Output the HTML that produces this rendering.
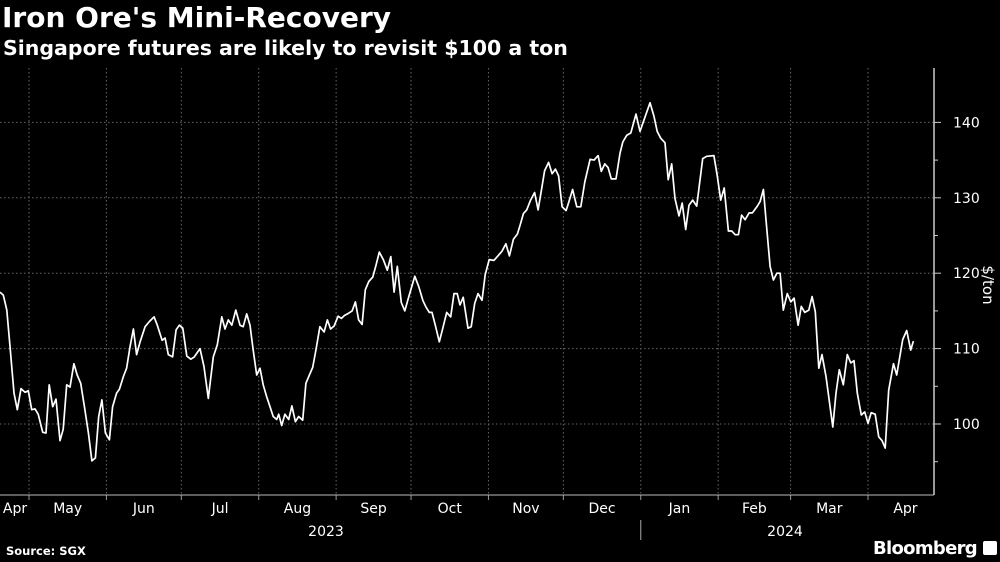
<!DOCTYPE html>
<html><head><meta charset="utf-8">
<style>
body{margin:0;background:#000;width:1000px;height:562px;overflow:hidden;font-family:"DejaVu Sans","Liberation Sans",sans-serif;color:#fff}
#title{position:absolute;left:2px;top:1px;font-size:28px;font-weight:bold;white-space:nowrap}
#sub{position:absolute;left:3px;top:36px;font-size:20.5px;font-weight:bold;white-space:nowrap}
#src{position:absolute;left:6px;top:544px;font-size:11.5px;font-weight:bold}
#bb{position:absolute;left:873px;top:538px;font-size:18px;font-weight:bold;letter-spacing:-0.7px;white-space:nowrap}
#icon{position:absolute;left:983px;top:541px;width:14px;height:14px;background:#fff;border-radius:2px}
svg{position:absolute;left:0;top:0}
</style></head><body>
<div id="title">Iron Ore's Mini-Recovery</div>
<div id="sub">Singapore futures are likely to revisit $100 a ton</div>
<div id="src">Source: SGX</div>
<div id="bb">Bloomberg</div>
<div id="icon"></div>
<svg id="chart" width="1000" height="562"></svg>
<script>
// days since 2023-04-01
const days=[18.4,19.7,21.1,22.4,24.0,25.3,26.8,28.4,29.7,31.1,32.4,33.7,35.5,36.8,38.1,39.5,40.8,42.4,43.7,45.1,46.4,48.0,49.3,50.7,52.4,53.8,55.2,56.6,57.9,59.2,60.6,62.2,63.5,65.1,66.2,67.8,69.1,70.5,71.8,73.1,74.5,76.5,78.2,80.1,81.4,83.3,84.5,85.8,87.5,88.9,90.2,91.6,93.2,94.8,96.2,98.5,100.1,101.8,103.8,105.4,107.2,108.5,109.8,111.2,112.8,114.5,115.8,117.2,118.5,119.8,121.2,122.5,123.8,125.2,126.5,127.8,129.2,130.0,131.2,132.5,134.0,135.3,136.7,138.0,139.6,140.9,142.3,143.6,144.9,146.5,148.2,149.5,150.8,152.2,153.8,155.1,156.4,158.0,159.4,160.7,162.0,163.4,164.7,166.1,167.7,169.0,170.3,171.9,173.5,174.9,176.2,177.5,179.1,180.5,182.1,184.5,186.1,187.7,189.0,190.3,191.4,192.7,194.3,195.7,197.3,198.9,200.2,201.5,202.6,203.9,205.8,207.1,208.5,209.8,211.4,212.7,214.3,216.2,217.8,219.4,221.0,222.4,224.0,225.6,226.7,228.0,229.3,230.9,232.5,233.9,235.2,236.5,238.1,239.5,240.8,242.1,243.5,245.1,246.4,247.7,249.4,251.0,252.6,254.7,256.3,257.9,259.2,260.6,261.9,263.2,265.1,266.7,267.8,269.4,271.0,273.1,274.7,278.7,280.3,281.6,283.0,284.7,286.0,287.4,288.7,290.3,291.6,293.0,294.3,295.8,297.4,299.8,301.4,304.3,305.7,307.0,308.4,310.1,311.4,312.8,314.1,315.4,316.8,318.4,319.7,321.5,322.8,324.1,325.5,326.8,328.1,329.5,330.8,332.1,333.7,335.1,336.4,338.0,339.3,340.7,342.3,343.6,344.9,346.3,347.6,349.2,351.9,353.2,354.5,356.1,357.7,359.1,360.4,361.7,363.3,364.7,366.0,367.3,368.9,370.3,371.6,372.9,374.3,376.2,377.5,379.9,381.5,383.1,384.2];
const prices=[117.5,117.1,115.1,110.3,104.1,101.9,104.7,104.2,104.4,101.9,102.0,101.3,98.9,98.8,105.2,102.3,103.3,97.8,99.3,105.2,104.9,108.0,106.5,105.4,101.9,98.8,95.1,95.5,101.0,103.2,98.8,97.9,102.3,104.1,104.6,106.3,107.4,110.3,112.6,109.2,110.9,112.9,113.6,114.2,113.1,111.1,111.4,109.2,108.9,112.5,113.1,112.7,109.0,108.6,108.9,110.0,107.6,103.4,108.9,110.5,114.2,112.6,113.8,113.1,115.1,113.1,112.9,114.6,113.1,109.8,106.5,107.4,105.2,103.6,102.3,101.0,100.6,101.3,99.8,101.3,100.6,102.4,100.3,101.0,100.5,105.4,106.5,107.5,109.8,112.9,112.2,113.8,112.6,113.0,114.3,114.0,114.4,114.7,115.0,116.2,113.8,113.2,117.8,118.9,119.5,121.1,122.8,121.8,120.4,122.2,117.5,120.9,116.1,115.0,116.9,119.6,118.2,116.4,115.5,114.8,114.8,113.1,110.9,112.7,114.8,114.2,117.3,117.3,115.8,116.8,112.7,112.9,116.0,117.3,116.4,119.8,121.8,121.7,122.3,122.9,123.9,122.3,124.5,125.2,126.4,127.9,128.4,129.7,130.7,128.4,131.0,133.6,134.7,133.2,133.8,132.9,128.8,128.3,129.7,131.1,128.8,128.8,132.1,135.1,135.0,135.6,133.5,134.5,134.0,132.5,132.5,135.9,137.4,138.3,138.6,141.1,138.8,142.6,140.8,138.8,137.9,137.3,132.4,134.5,129.9,127.6,129.3,125.8,129.0,129.7,128.9,135.2,135.5,135.6,132.8,129.7,131.3,125.6,125.6,125.1,125.1,127.7,127.1,128.0,128.0,128.8,129.5,131.1,125.7,120.9,119.1,120.0,120.0,115.1,117.3,116.2,116.7,113.1,115.6,114.8,115.1,116.9,114.9,107.4,109.2,106.3,99.6,104.1,107.2,105.2,109.2,108.1,108.4,104.1,101.2,101.6,100.1,101.5,101.3,98.3,97.8,96.8,104.5,108.0,106.5,111.2,112.4,109.8,111.0];
const yTicks=[100,110,120,130,140];
const monthLabels=["Apr","May","Jun","Jul","Aug","Sep","Oct","Nov","Dec","Jan","Feb","Mar","Apr"];
const monthStarts=[0,30,61,91,122,153,183,214,244,275,306,335,366]; // days since 2023-04-01
const yearLabels=["2023","2024"];

const X0=29, XD=30, PXD=2.497;
const FONT='DejaVu Sans, Liberation Sans, sans-serif';
function xs(d){return X0+(d-XD)*PXD;}
function ys(v){return 424-(v-100)*7.54;}
const svg=document.getElementById('chart');
const NS='http://www.w3.org/2000/svg';
function mk(t,a){const e=document.createElementNS(NS,t);for(const k in a)e.setAttribute(k,a[k]);svg.appendChild(e);return e;}
yTicks.forEach(v=>{
 const g=mk('line',{x1:0,x2:933,y1:ys(v),y2:ys(v),stroke:'#666','stroke-width':1,'stroke-dasharray':'1.5,2.5'});
 
 
 const t=mk('text',{x:953,y:ys(v)+5,fill:'#fff','font-size':14,'font-family':FONT});
 t.textContent=v;
 
 
 const tk=mk('line',{x1:934,x2:941,y1:ys(v),y2:ys(v),stroke:'#ccc','stroke-width':1});
 
 
});
[95,105,115,125,135].forEach(v=>{
 const tk=mk('line',{x1:934,x2:938,y1:ys(v),y2:ys(v),stroke:'#ccc','stroke-width':1});
 
 
});
monthStarts.forEach((d,i)=>{
 if(i>0){
  const g=mk('line',{x1:xs(d),x2:xs(d),y1:68,y2:495,stroke:'#666','stroke-width':1,'stroke-dasharray':'1.5,2.5'});
  
  
  const tk=mk('line',{x1:xs(d),x2:xs(d),y1:495,y2:500,stroke:'#999','stroke-width':1});
  
  
 }
 const mid=(i<monthStarts.length-1)?(d+monthStarts[i+1])/2:d+15;
 const t=mk('text',{x:Math.max(xs(mid),15),y:513,fill:'#fff','font-size':14,'font-family':FONT,'text-anchor':'middle'});
 t.textContent=monthLabels[i];
 
 
});
const yr1=mk('text',{x:326,y:536,fill:'#fff','font-size':14,'font-family':FONT,'text-anchor':'middle'});
yr1.textContent=yearLabels[0];


const yr2=mk('text',{x:785,y:536,fill:'#fff','font-size':14,'font-family':FONT,'text-anchor':'middle'});
yr2.textContent=yearLabels[1];


const ysep=mk('line',{x1:xs(275),x2:xs(275),y1:520,y2:540,stroke:'#aaa','stroke-width':1});


const xax=mk('line',{x1:0,x2:934,y1:495,y2:495,stroke:'#bbb','stroke-width':1});


const ax=mk('line',{x1:934,x2:934,y1:68,y2:495,stroke:'#ccc','stroke-width':1.5});


const yt=mk('text',{x:0,y:0,fill:'#fff','font-size':15,'font-family':FONT,'text-anchor':'middle',transform:'translate(983,285) rotate(90)'});
yt.textContent='$/ton';


let dstr='';
days.forEach((d,i)=>{dstr+=(i?'L':'M')+xs(d).toFixed(1)+','+ys(prices[i]).toFixed(1);});
const ln=mk('path',{d:dstr,fill:'none',stroke:'#fff','stroke-width':1.7,'stroke-linejoin':'round'});


</script>
</body></html>
